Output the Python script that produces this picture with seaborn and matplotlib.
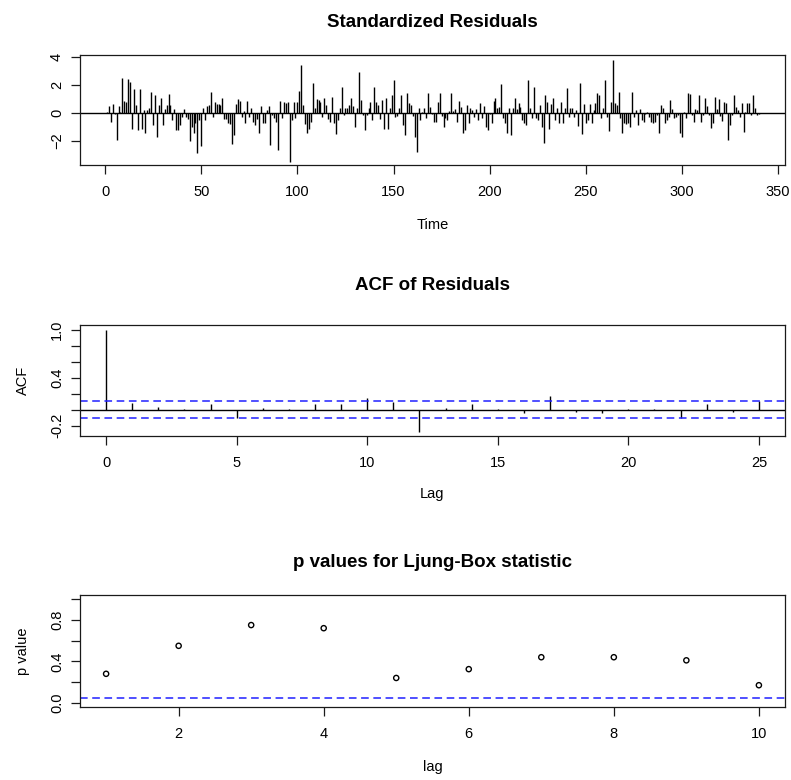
import numpy as np
import matplotlib
matplotlib.use("Agg")
import matplotlib.pyplot as plt
import seaborn as sns

# standardized residuals (time 1..340)
resid_1 = [0.1, 0.52, -0.67, 0.64, -0.1, -1.93, 0.52, 0.1, 2.52, 0.86,
           0.8, 2.43, 2.24, -1.1, 1.69, 0.6, -1.17, 1.69, -1.1, 0.24,
           -1.4, 0.2, 0.33, 1.48, -0.86, 1.29, -1.71, 0.57, 1.1, -0.86,
           0.3, 0.57, 1.36, 0.57, -0.5, 0.3, -1.2, -1.2, -0.86, -0.26,
           0.26, -0.26, -0.4, -2.0, -1.0, -1.45, -0.74, -2.88, -0.5, -2.36,
           0.33, -0.5, 0.52, 0.55, 1.48, -0.26, 0.76, 0.62, 0.62, 0.57,
           1.07, -0.4, -0.45, -0.74, -0.8, -2.17, -1.57, 0.62, 0.98, 0.86,
           -0.26, 0.14, -0.74, 0.88, -0.26, 0.33, -0.62, -0.86, -0.4, -1.4,
           0.5, -0.74, -0.74, 0.2, 0.52]
resid_2 = [-2.24, -0.14, -0.38, -0.67, -2.64, 0.86, -0.38, 0.76, 0.69, 0.76,
           -3.48, -0.5, 0.76, -0.38, 0.81, 1.57, 3.45, 0.57, -0.81, -1.45,
           -1.1, -0.62, 2.12, 0.33, 0.98, 0.93, 0.81, -0.26, 1.1, 0.57,
           -0.43, -0.67, 1.17, -0.74, -1.5, -0.5, 0.38, 1.88, -0.14, 0.33,
           0.33, 0.57, 1.05, 0.52, -0.98, 0.33, 2.95, 0.93, -0.14, -1.21,
           -0.14, 0.38, 0.76, -0.5, 1.88, 0.81, 0.57, -0.43, 0.93, -1.1,
           1.05, -1.1, 0.33, 1.29, 2.36, -0.26, -0.19, 0.38, 1.29, -0.86,
           -1.57, 1.4, 0.69, 0.57, -0.19, -1.69, -2.76, 0.33, -0.5, 0.1,
           0.33, -0.38, 1.4, 0.45, -0.05, -0.62, -0.67]
resid_3 = [0.76, 1.4, -0.19, -0.98, -0.38, -0.5, 0.17, 1.4, 0.14, 0.26,
           -0.67, 0.86, 0.45, -1.4, -1.21, 0.57, -0.74, 0.33, 0.21, -0.26,
           0.26, -0.5, 0.69, -0.38, 0.52, -0.98, -1.21, -0.1, -0.74, 0.86,
           1.05, 0.38, 0.45, 2.05, -0.38, -0.74, -1.45, 0.38, -1.57, 0.38,
           1.1, 0.29, 0.69, 0.45, -0.5, -0.74, -0.86, 2.36, 0.33, -0.38,
           1.88, -0.38, -0.5, 0.57, -0.98, -2.12, 1.29, 0.76, -1.1, 0.62,
           1.1, -0.5, 0.38, -0.74, 0.81, -0.74, 0.33, 1.81, -0.26, 0.33,
           0.33, -0.26, 0.2, -0.91, 2.12, -1.52, 0.62, -0.74, -0.5, 0.64,
           -0.74, 0.21, 0.69, 1.4, 1.29, -0.33, 0.38, 2.36, -0.26, -1.29]
resid_4 = [0.81, 3.8, 0.69, 0.6, 1.52, -0.38, -1.4, -0.74, -0.81, -0.74,
           -0.98, 1.52, -0.26, 0.21, -0.86, 0.29, -0.5, -0.67, -0.1, 0.1,
           -0.26, -0.67, -0.74, -0.67, -0.14, -1.4, 0.57, 0.38, -0.74, -0.5,
           -0.26, 0.93, 0.29, -0.38, -0.26, -0.14, -1.45, -1.69, 0.1, -0.38,
           1.4, 1.35, -0.14, -0.62, 0.29, 0.21, 1.29, -0.62, -0.14, 1.1,
           0.52, -0.14, -1.05, -0.74, 1.17, 0.29, 0.98, -0.19, -0.57, 0.76,
           0.69, -1.93, -0.86, -0.14, 1.29, 0.45, 0.21, -0.26, 0.69, -1.33,
           0.1, 0.69, 0.69, -0.14, 1.29, 0.33, -0.14, -0.1]
residuals = resid_1 + resid_2 + resid_3 + resid_4
time = list(range(1, len(residuals) + 1))

# autocorrelation of the residuals, lags 0..25
acf_lags = list(range(0, 26))
acf_values = [1.0, 0.08, 0.03, 0.005, 0.07, -0.11, 0.02, 0.005, 0.07, 0.075,
              0.14, 0.09, -0.28, 0.025, 0.07, 0.005, -0.045, 0.17, -0.03, -0.045,
              0.005, 0.005, -0.11, 0.07, -0.03, 0.11]

# Ljung-Box p values, lags 1..10
lb_lags = list(range(1, 11))
lb_pvalues = [0.28, 0.55, 0.75, 0.72, 0.24, 0.325, 0.44, 0.44, 0.41, 0.17]

sns.set_theme(style="ticks")
plt.rcParams["font.family"] = ["Liberation Sans", "DejaVu Sans"]
plt.rcParams["text.color"] = "black"
plt.rcParams["axes.labelcolor"] = "black"
plt.rcParams["axes.titlecolor"] = "black"
plt.rcParams["axes.edgecolor"] = "#1a1a1a"
plt.rcParams["axes.linewidth"] = 0.9
plt.rcParams["xtick.color"] = "#1a1a1a"
plt.rcParams["ytick.color"] = "#1a1a1a"
plt.rcParams["xtick.labelcolor"] = "black"
plt.rcParams["ytick.labelcolor"] = "black"

fig = plt.figure(figsize=(7.91, 7.80), dpi=100)
W, H = 791, 780


def panel(top, bottom):
    return fig.add_axes([80 / W, 1 - bottom / H, 705 / W, (bottom - top) / H])


def style(ax, title, xlabel, ylabel, pad_title):
    ax.set_title(title, fontsize=13.5, fontweight="bold", pad=pad_title)
    ax.set_xlabel(xlabel, fontsize=10.5, va="center")
    ax.set_ylabel(ylabel, fontsize=10.5)
    ax.tick_params(axis="both", length=6.5, width=0.9, labelsize=10.5, pad=8)
    ax.tick_params(axis="y", labelrotation=90, pad=5)
    for lab in ax.get_yticklabels():
        lab.set_va("center")
    for side in ["top", "right", "left", "bottom"]:
        ax.spines[side].set_visible(True)


blue = "#1f1fff"

# Panel 1: standardized residuals
ax1 = panel(55, 165)
ax1.vlines(time, 0, residuals, color="black", linewidth=1.0)
ax1.axhline(0, color="black", linewidth=1.0)
n = len(residuals)
ax1.set_xlim(1 - 0.04 * (n - 1) - 0.5, n + 0.04 * (n - 1))
ax1.set_ylim(-3.7, 4.14)
ax1.set_xticks(range(0, 351, 50))
ax1.set_yticks([-2, 0, 2, 4])
style(ax1, "Standardized Residuals", "Time", "", 20)

# Panel 2: ACF of residuals
ax2 = panel(325, 436)
ax2.vlines(acf_lags, 0, acf_values, color="black", linewidth=1.0)
ax2.axhline(0, color="black", linewidth=1.0)
ci = 1.96 / np.sqrt(n)
for lvl in (ci, -ci):
    ax2.axhline(lvl, color=blue, linewidth=1.1, dashes=(5, 3))
ax2.set_xlim(-1, 26)
ax2.set_ylim(-0.33, 1.06)
ax2.set_yticks([-0.2, 0.0, 0.2, 0.4, 0.6, 0.8, 1.0])
ax2.set_yticklabels(["-0.2", "", "", "0.4", "", "", "1.0"])
ax2.set_xticks(range(0, 26, 5))
style(ax2, "ACF of Residuals", "Lag", "ACF", 25)

# Panel 3: Ljung-Box p values
ax3 = panel(595, 707)
sns.scatterplot(x=lb_lags, y=lb_pvalues, ax=ax3, marker="o", s=14,
                facecolor="none", edgecolor="black", linewidth=1.0)
ax3.axhline(0.05, color=blue, linewidth=1.1, dashes=(5, 3))
ax3.set_xlim(1 - 0.36, 10 + 0.36)
ax3.set_ylim(-0.04, 1.04)
ax3.set_xticks([2, 4, 6, 8, 10])
ax3.set_yticks([0.0, 0.2, 0.4, 0.6, 0.8, 1.0])
ax3.set_yticklabels(["0.0", "", "0.4", "", "0.8", ""])
style(ax3, "p values for Ljung-Box statistic", "lag", "p value", 20.5)

ax1.xaxis.set_label_coords(0.5, -60 / 110)
ax2.xaxis.set_label_coords(0.5, -58 / 111)
ax3.xaxis.set_label_coords(0.5, -60 / 112)
for ax in (ax1, ax2, ax3):
    ax.yaxis.set_label_coords(-50 / 705, 0.5)

fig.savefig("out.png", dpi=100, facecolor="white")
